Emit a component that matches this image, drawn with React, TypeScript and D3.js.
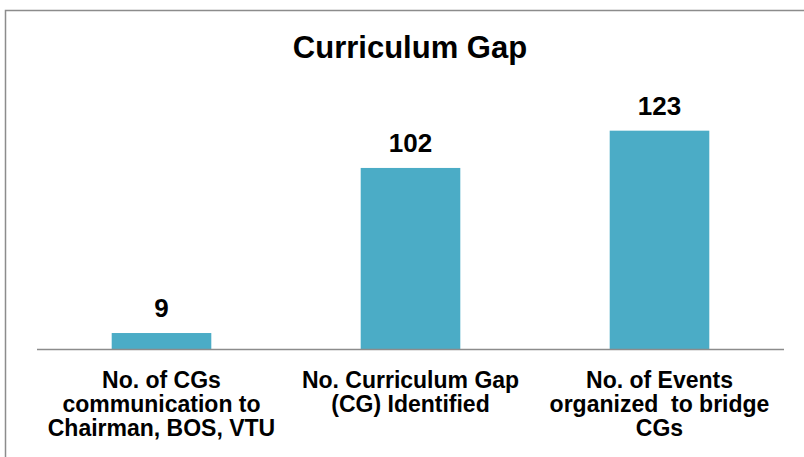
import React from 'react';
import * as d3 from 'd3';

const categories = [
  ['No. of CGs', 'communication to', 'Chairman, BOS, VTU'],
  ['No. Curriculum Gap', '(CG) Identified'],
  ['No. of Events', 'organized  to bridge', 'CGs'],
];
const values = [9, 102, 123];
const title = 'Curriculum Gap';

const W = 804;
const H = 457;
const baseY = 349;
const font = 'Arial, "Liberation Sans", sans-serif';

const App: React.FC = () => {
  const x = d3
    .scaleBand<number>()
    .domain(d3.range(values.length))
    .range([37, 784])
    .paddingInner(0.6)
    .paddingOuter(0.3);
  const y = d3.scaleLinear().domain([0, 140]).range([baseY, 100.5]);

  return (
    <div style={{ position: 'absolute', left: 0, top: 0 }}>
      <svg width={W} height={H} style={{ display: 'block', background: '#fff' }}>
        {/* chart area border, runs off the right/bottom */}
        <rect x={5.5} y={10.5} width={820} height={470} fill="none" stroke="#8c8c8c" strokeWidth={1.5} />

        <text x={410} y={58} textAnchor="middle" fontFamily={font} fontWeight="bold" fontSize={31} fill="#000">
          {title}
        </text>

        {values.map((v, i) => (
          <g key={i}>
            <rect
              x={x(i)!}
              y={y(v)}
              width={x.bandwidth()}
              height={baseY - y(v)}
              fill="#4BACC6"
            />
            <text
              x={x(i)! + x.bandwidth() / 2}
              y={y(v) - 16}
              textAnchor="middle"
              fontFamily={font}
              fontWeight="bold"
              fontSize={26}
              fill="#000"
            >
              {v}
            </text>
          </g>
        ))}

        <line x1={37} x2={784} y1={baseY + 0.5} y2={baseY + 0.5} stroke="#8c8c8c" strokeWidth={1.5} />

        {categories.map((lines, i) => (
          <text
            key={i}
            textAnchor="middle"
            fontFamily={font}
            fontWeight="bold"
            fontSize={23}
            fill="#000"
            style={{ whiteSpace: 'pre' }}
          >
            {lines.map((ln, j) => (
              <tspan key={j} x={x(i)! + x.bandwidth() / 2} y={388 + j * 24}>
                {ln}
              </tspan>
            ))}
          </text>
        ))}
      </svg>
    </div>
  );
};

export default App;
